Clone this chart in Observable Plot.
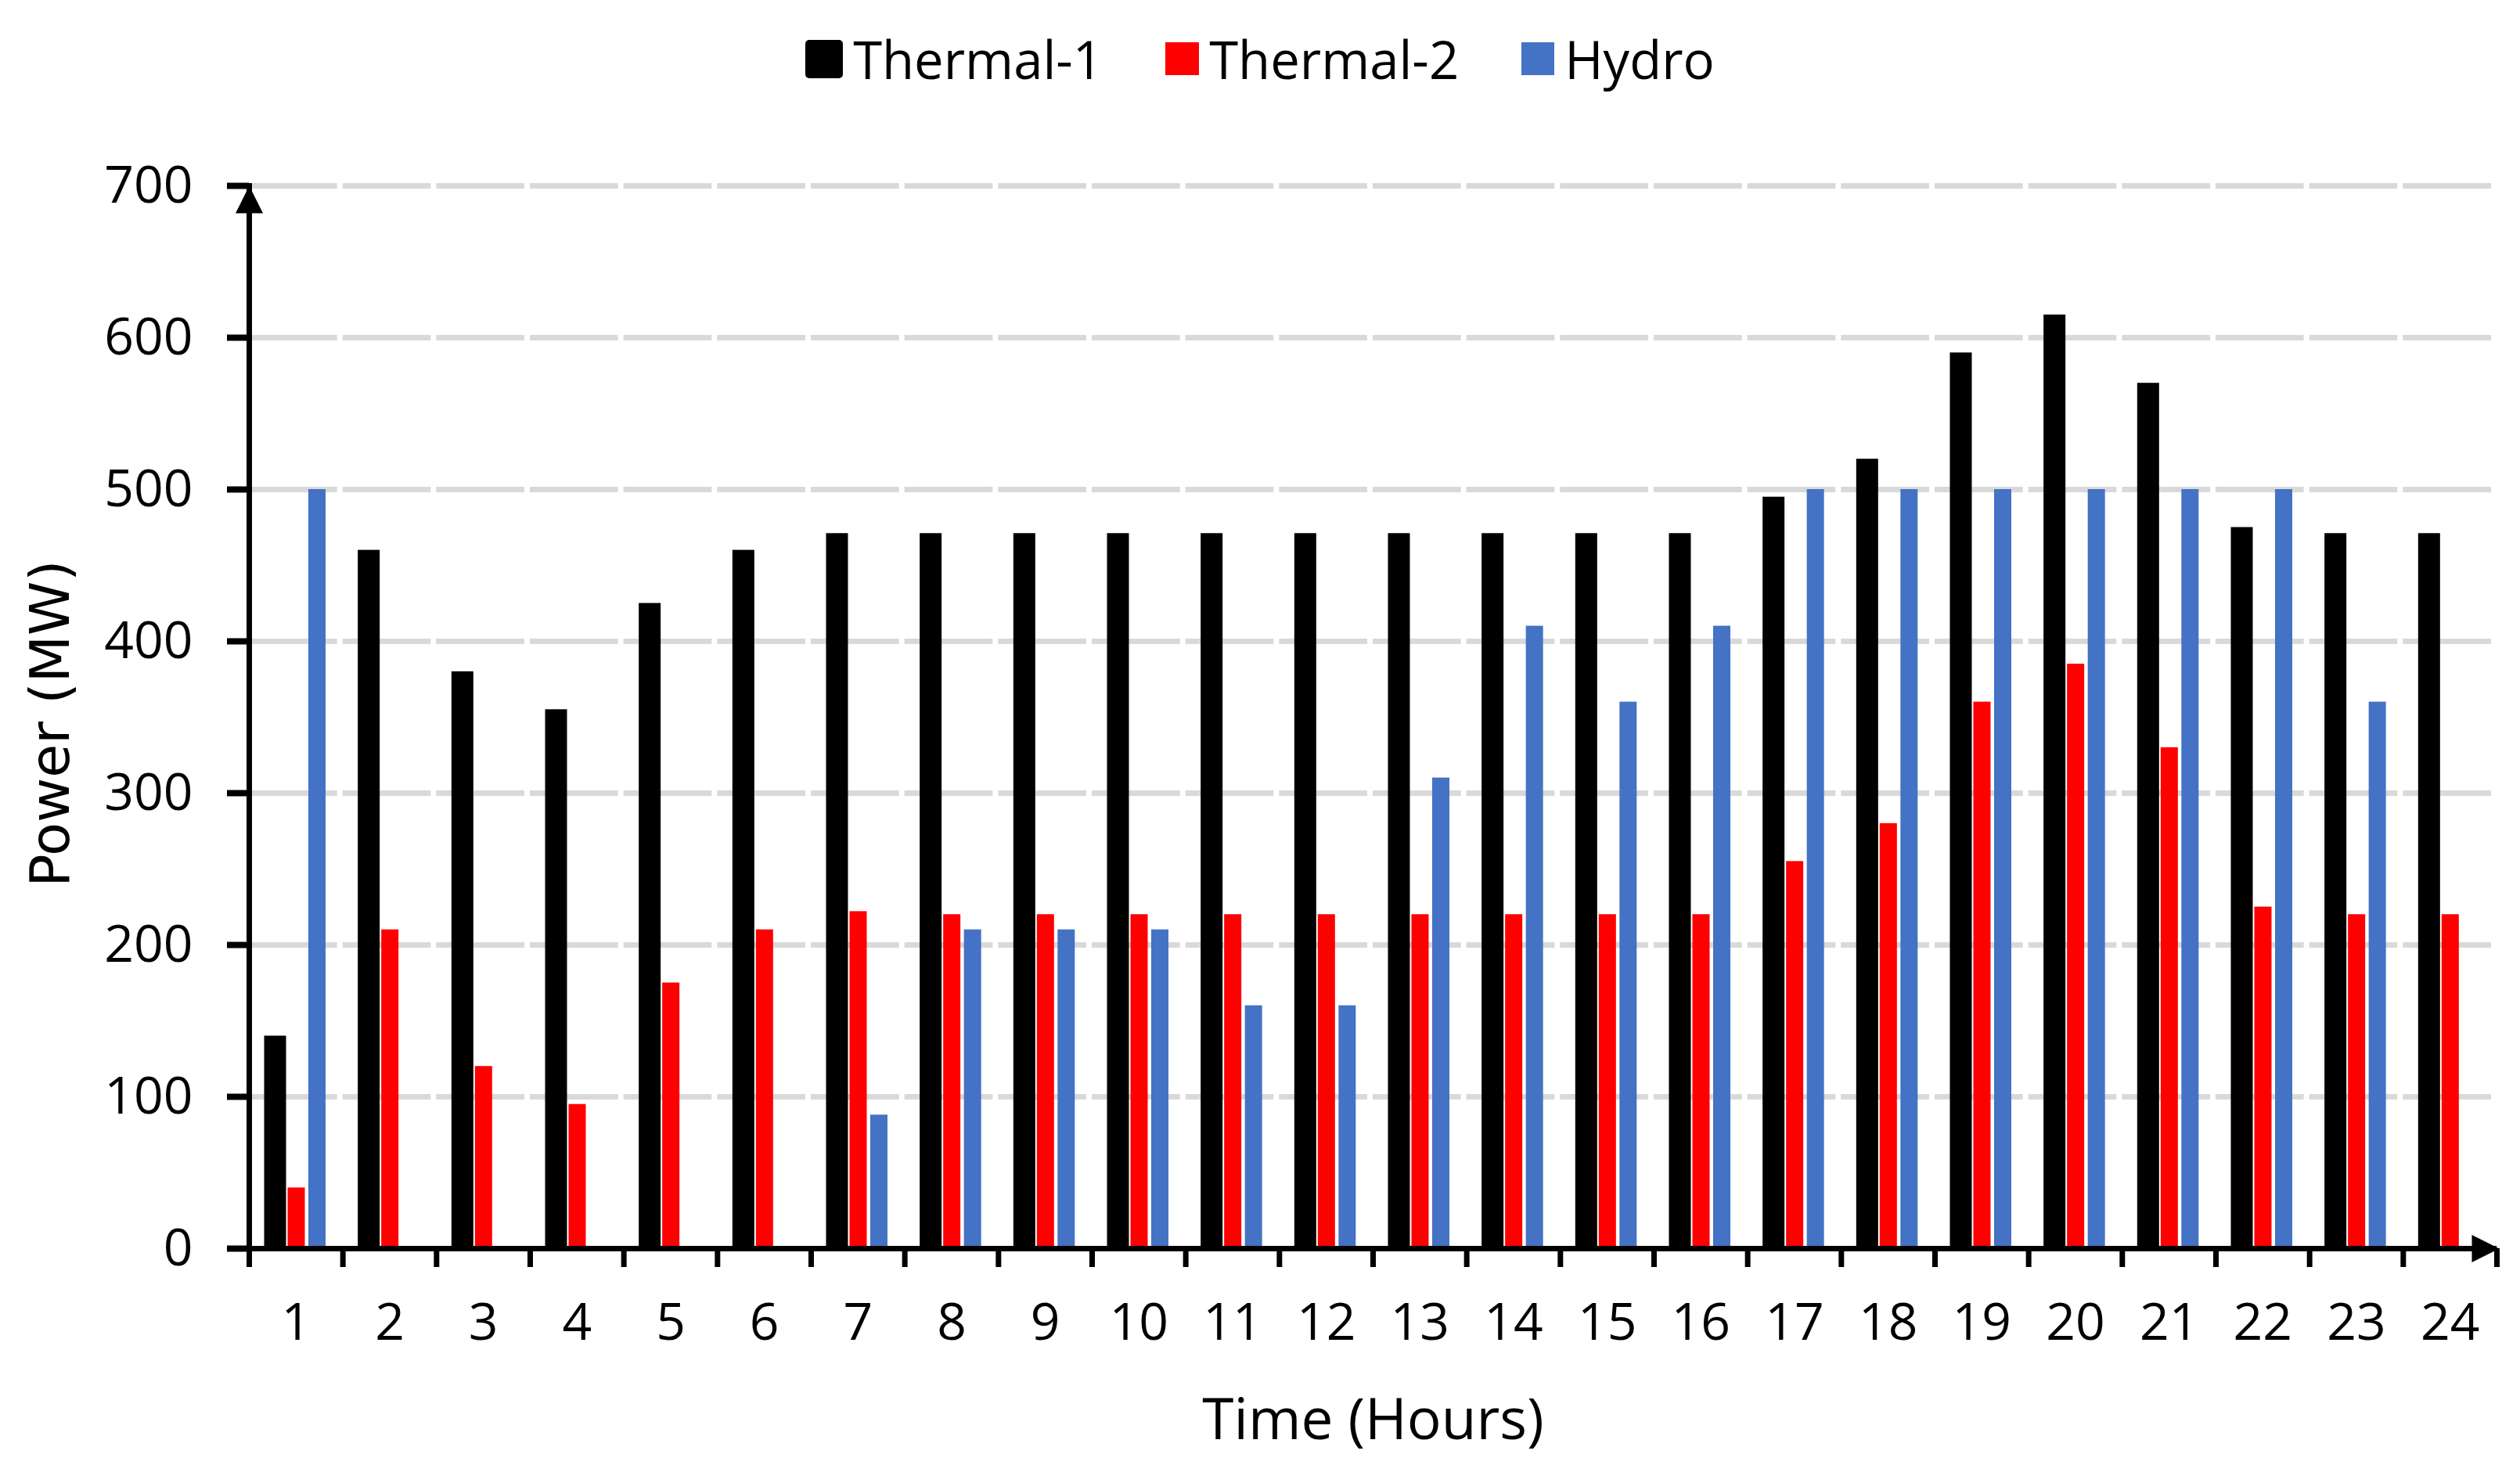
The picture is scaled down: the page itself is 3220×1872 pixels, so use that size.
<!DOCTYPE html>
<html>
<head>
<meta charset="utf-8">
<script src="https://cdn.jsdelivr.net/npm/d3@7"></script>
<script src="https://cdn.jsdelivr.net/npm/@observablehq/plot@0.6"></script>
<style>
  html, body { margin: 0; padding: 0; background: #fff; overflow: hidden; }
  #legend { height: 150px; margin-bottom: 10px; display: flex; justify-content: center; align-items: center;
            font-family: "Open Sans", sans-serif; font-size: 67px; color: #000; }
  .item { display: flex; align-items: center; margin: 0 40px; }
  .sw { margin-right: 13px; }
</style>
</head>
<body>
<div id="legend"></div>
<div id="chart"></div>
<script>
// ---- data ----
const hours    = [1, 2, 3, 4, 5, 6, 7, 8, 9, 10, 11, 12, 13, 14, 15, 16, 17, 18, 19, 20, 21, 22, 23, 24];
const thermal1 = [140, 460, 380, 355, 425, 460, 471, 471, 471, 471, 471, 471, 471, 471, 471, 471, 495, 520, 590, 615, 570, 475, 471, 471];
const thermal2 = [40, 210, 120, 95, 175, 210, 222, 220, 220, 220, 220, 220, 220, 220, 220, 220, 255, 280, 360, 385, 330, 225, 220, 220];
const hydro    = [500, 0, 0, 0, 0, 0, 88, 210, 210, 210, 160, 160, 310, 410, 360, 410, 500, 500, 500, 500, 500, 500, 360, 0];
const seriesNames  = ["Thermal-1", "Thermal-2", "Hydro"];
const seriesColors = ["#000000", "#ff0000", "#4472c4"];
const yTicks    = [0, 100, 200, 300, 400, 500, 600, 700];
const gridTicks = [100, 200, 300, 400, 500, 600, 700];
const xLabel = "Time (Hours)";
const yLabel = "Power (MW)";

// ---- legend ----
const legend = document.getElementById("legend");
const swSizes = [[48, 49, 5], [43, 42, 0], [42, 42, 0]];
seriesNames.forEach((name, i) => {
  const it = document.createElement("div");
  it.className = "item";
  const sw = document.createElement("span");
  sw.className = "sw";
  sw.style.cssText = `display:inline-block;width:${swSizes[i][0]}px;height:${swSizes[i][1]}px;border-radius:${swSizes[i][2]}px;background:${seriesColors[i]}`;
  const tx = document.createElement("span");
  tx.textContent = name;
  it.appendChild(sw); it.appendChild(tx);
  legend.appendChild(it);
});

// ---- chart ----
const W = 3220, H = 1712;
const mL = 318, mR = 30, mT = 77, mB = 277;
const bw = (W - mL - mR) / hours.length;
const rows = hours.map((h, i) => ({hour: h, t1: thermal1[i], t2: thermal2[i], hy: hydro[i]}));
const arrowHead = { draw(ctx) { ctx.moveTo(0, 0); ctx.lineTo(17.5, 35); ctx.lineTo(-17.5, 35); ctx.closePath(); } };

const chart = Plot.plot({
  width: W, height: H,
  marginLeft: mL, marginRight: mR, marginTop: mT, marginBottom: mB,
  style: {fontFamily: "Open Sans", background: "white", color: "black", overflow: "visible"},
  x: {type: "band", domain: hours, padding: 0, round: false},
  y: {domain: [0, 700]},
  marks: [
    Plot.ruleY(gridTicks, {stroke: "#d9d9d9", strokeWidth: 7, strokeDasharray: `${bw - 7},7`}),
    Plot.barY(rows, {x: "hour", y: "t1", fill: seriesColors[0], insetLeft: 19.5, insetRight: bw - 47.5}),
    Plot.barY(rows, {x: "hour", y: "t2", fill: seriesColors[1], insetLeft: 49.5, insetRight: bw - 71.5}),
    Plot.barY(rows, {x: "hour", y: "hy", fill: seriesColors[2], insetLeft: 76, insetRight: bw - 98}),
    Plot.ruleY([0], {stroke: "#000", strokeWidth: 7}),
    Plot.frame({anchor: "left", stroke: "#000", strokeWidth: 7}),
    Plot.axisY({ticks: yTicks, tickSize: 28, tickPadding: 44, strokeWidth: 8, fontSize: 66, label: null, tickFormat: d => String(d)}),
    Plot.axisX({ticks: hours, tickSize: 24, strokeWidth: 7, dx: -bw / 2, fill: "none", label: null}),
    Plot.axisX({ticks: [hours[hours.length - 1]], tickSize: 24, strokeWidth: 7, dx: bw / 2, fill: "none", label: null}),
    Plot.axisX({ticks: hours, tickSize: 0, tickPadding: 70, fontSize: 66, label: null}),
    Plot.dot([0], {frameAnchor: "top-left", symbol: arrowHead, fill: "#000", r: 10}),
    Plot.dot([0], {frameAnchor: "bottom-right", symbol: arrowHead, fill: "#000", r: 10, rotate: 90, dx: 3}),
    Plot.text([xLabel], {frameAnchor: "bottom", textAnchor: "middle", lineAnchor: "middle", dy: 220, fontSize: 73, fill: "#000"}),
    Plot.text([yLabel], {frameAnchor: "left", textAnchor: "middle", lineAnchor: "middle", rotate: -90, dx: -253, dy: 8, fontSize: 70, fontFamily: "DejaVu Sans", fill: "#000"})
  ]
});
document.getElementById("chart").appendChild(chart);
</script>
</body>
</html>
